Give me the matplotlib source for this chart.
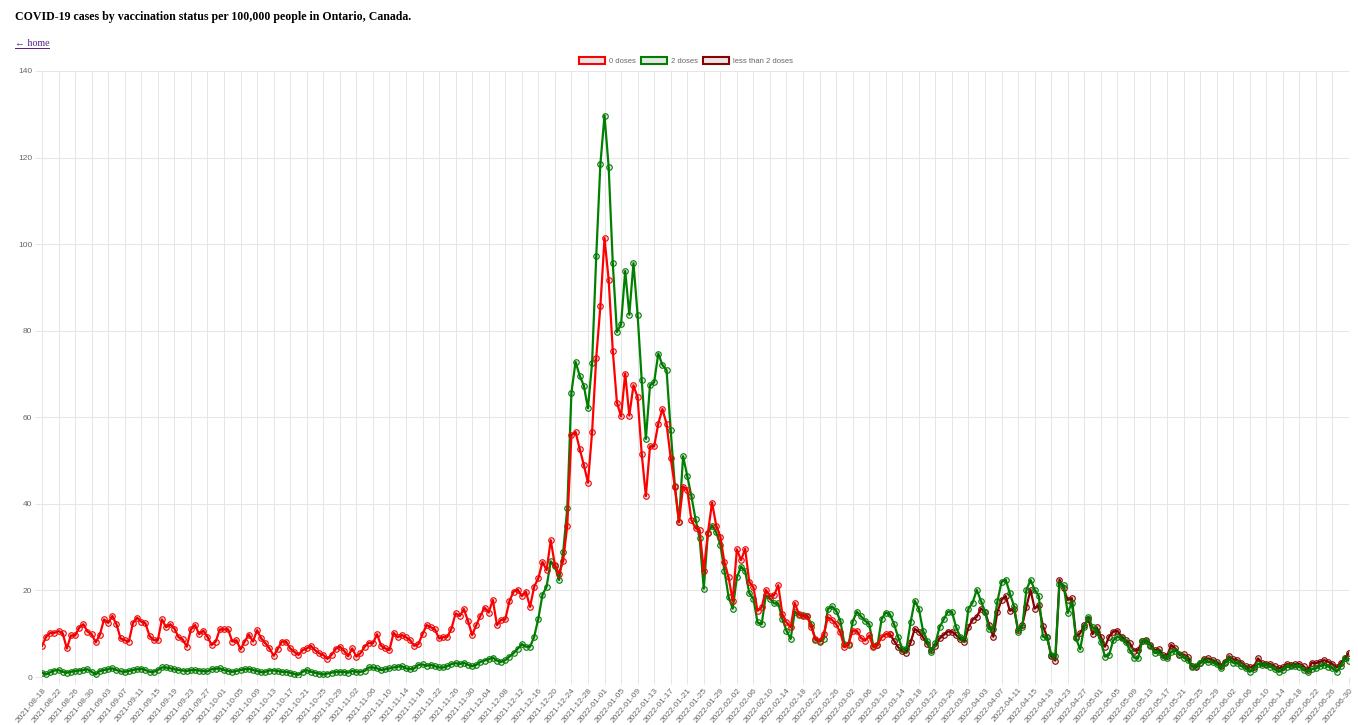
import numpy as np
import pandas as pd
import matplotlib
matplotlib.use("Agg")
import matplotlib.pyplot as plt
from matplotlib.patches import Patch
from matplotlib.lines import Line2D

# daily dates shown on the category axis
dates = pd.date_range("2021-08-18", "2022-06-30", freq="D").strftime("%Y-%m-%d").tolist()

# 0 doses, 2021-08-18 .. 2022-03-11
zero_doses = [
    7.2, 9.3, 10.2, 10.2, 10.6, 10.1, 6.6, 9.6, 9.6, 11.4,
    12.2, 10.5, 9.9, 8.0, 9.8, 13.3, 12.5, 14.1, 12.2, 8.9,
    8.5, 8.2, 12.5, 13.7, 12.8, 12.4, 9.5, 8.5, 8.5, 13.3,
    11.5, 12.2, 11.2, 9.2, 8.7, 7.0, 11.0, 12.0, 9.9, 10.7,
    9.3, 7.4, 8.2, 11.0, 11.0, 11.0, 8.2, 8.5, 6.4, 8.2,
    9.8, 8.2, 10.8, 8.9, 7.8, 6.6, 4.9, 6.5, 8.2, 8.2,
    6.6, 5.8, 5.1,
    6.2, 6.6, 7.2, 6.2, 5.5, 5.1, 4.2, 5.1, 6.5, 7.0,
    6.1, 4.8, 6.6, 4.7, 5.5, 7.0, 7.9, 7.8, 9.9, 7.2,
    6.6, 6.2, 10.2, 9.2, 9.7, 9.2, 8.5, 7.2, 7.6, 9.9,
    12.0, 11.5, 11.0, 8.9, 9.2, 9.3, 11.2, 14.7, 14.1, 15.7,
    12.9, 9.7, 12.0, 14.2, 16.0, 14.9, 17.8, 12.0, 13.2, 13.3,
    17.5, 19.7, 20.2, 18.7, 19.7, 16.2, 20.9, 22.8, 26.6, 24.7,
    31.6, 25.9, 23.9,
    26.8, 35.0, 55.9, 56.6, 52.7, 49.0, 44.9, 56.6, 73.8, 85.6,
    101.4, 91.8, 75.4, 63.4, 60.2, 70.1, 60.4, 67.4, 64.6, 51.5,
    41.8, 53.3, 53.3, 58.5, 61.9, 58.5, 50.6, 44.0, 35.8, 44.0,
    43.3, 36.3, 34.4,
    33.9, 24.5, 33.3, 40.3, 35.0, 32.4, 26.5, 23.0, 17.6, 29.5,
    27.0, 29.6, 22.0, 20.7, 15.3, 16.1, 20.1, 18.7, 18.9, 21.2,
    14.5, 12.6, 11.5, 17.1, 14.5, 14.0, 14.0, 11.5, 8.8, 8.4,
    9.9, 13.8, 13.2, 12.2, 10.3, 6.9, 7.7, 10.7, 10.7, 9.0,
    8.4, 9.6, 6.9, 7.4, 9.2, 9.9, 9.9,
]

# 2 doses, full range
two_doses = [
    1.0, 0.6, 1.1, 1.5, 1.6, 1.2, 1.0, 1.2, 1.4, 1.5,
    1.6, 1.8, 1.2, 0.6, 1.4, 1.6, 1.8, 2.0, 1.6, 1.3,
    1.2, 1.4, 1.6, 1.8, 1.9, 1.6, 1.2, 1.2, 1.6, 2.2,
    2.2, 2.0, 1.8, 1.6, 1.5, 1.4, 1.6, 1.6, 1.5, 1.4,
    1.3, 1.8, 1.9, 2.0, 1.6, 1.4, 1.2, 1.4, 1.6, 1.8,
    1.9, 1.6, 1.4, 1.1, 1.2, 1.5, 1.5, 1.4, 1.2, 1.2,
    1.0, 0.7, 0.5,
    1.2, 1.6, 1.2, 1.0, 0.8, 0.6, 0.8, 1.0, 1.2, 1.2,
    1.2, 1.0, 1.4, 1.2, 1.2, 1.4, 2.2, 2.2, 2.0, 1.6,
    1.8, 2.0, 2.2, 2.4, 2.5, 2.0, 1.8, 2.0, 2.8, 2.9,
    2.6, 2.8, 2.5, 2.2, 2.2, 2.5, 3.0, 3.2, 3.0, 3.3,
    2.8, 2.5, 2.8, 3.5, 3.8, 4.1, 4.5, 3.8, 3.5, 3.9,
    4.7, 5.5, 6.5, 7.6, 7.0, 7.0, 9.3, 13.5,
    19.0, 20.9, 26.7, 25.6, 22.4, 28.8, 39.0, 65.7, 72.8, 69.6,
    67.3, 62.1, 72.6, 97.2, 118.5, 129.7, 117.9, 95.6, 79.7, 81.5,
    93.8, 83.7, 95.6, 83.7, 68.5, 55.0, 67.4, 68.1, 74.7, 72.1,
    70.9, 57.0, 44.2, 35.8, 51.0, 46.5, 41.8, 36.5,
    32.0, 20.4, 33.3, 35.0, 33.4, 30.6, 24.5, 18.5, 15.8, 23.0,
    25.5, 24.5, 19.4, 18.1, 12.6, 12.2, 18.9, 18.1, 17.0, 17.0,
    13.4, 10.7, 8.8, 15.1, 14.4, 14.3, 14.2, 12.2, 8.6, 8.2,
    8.8, 15.7, 16.3, 15.3, 13.0, 7.7, 7.3, 12.8, 15.1, 14.0,
    13.0, 12.2, 7.1, 7.3, 13.4, 14.9, 14.5, 12.2, 9.2, 6.5,
    6.5, 12.6, 17.6, 15.8, 10.7, 8.4,
    5.8, 7.8, 11.5, 13.3, 15.1, 15.1, 11.5, 9.3, 8.7, 15.8,
    17.2, 20.1, 17.6, 15.1, 11.0, 11.2, 17.5, 22.0, 22.5, 19.3,
    16.4, 10.5, 11.5, 20.1, 22.4, 20.2, 18.7, 9.3, 9.2, 5.1,
    4.8, 21.5, 21.2, 14.8, 17.2, 8.9, 6.4, 11.6, 13.9, 11.5,
    10.5, 8.2, 4.7, 5.1, 8.5, 9.3, 8.9, 8.2, 6.2, 4.5,
    4.3,
    8.3, 8.4, 7.2, 5.6, 5.8, 4.7, 4.3, 5.8, 6.1, 5.3,
    4.5, 3.9, 2.4, 2.5, 3.2, 3.9, 3.4, 3.5, 3.0, 2.0,
    3.2, 4.1, 3.3, 3.2, 2.5, 2.0, 1.2, 1.8, 3.0, 2.8,
    2.8, 2.4, 1.8, 1.2, 1.6, 2.4, 2.5, 2.5, 2.4, 1.6,
    1.2, 1.8, 2.0, 2.5, 2.8, 2.4, 2.0, 1.2, 2.5, 4.3,
    3.8,
]

# less than 2 doses, 2022-03-11 .. 2022-06-30
less_than_two_start = "2022-03-11"
less_than_two = [
    9.9, 8.4, 6.9, 5.9, 5.6, 8.0, 11.1, 10.5, 9.2, 7.7,
    6.2, 7.2, 8.9, 9.7, 10.5, 10.5, 9.7, 8.7, 8.2, 11.5,
    13.2, 13.9, 15.8, 15.1, 12.0, 9.3, 15.1, 17.8, 18.7, 15.3,
    15.8, 10.8, 12.0, 16.2, 20.1, 15.8, 16.6, 11.8, 9.3, 4.8,
    3.8, 22.5, 20.5, 17.8, 18.2, 9.3, 10.1, 12.0, 13.3, 9.9,
    11.5, 9.3, 7.0, 9.3, 10.5, 10.7, 9.3, 8.5, 7.8, 6.1,
    6.2,
    8.3, 8.5, 7.4, 6.2, 6.4, 5.1, 4.8, 7.4, 6.6, 5.1,
    5.2, 4.7, 2.5, 2.2, 3.2, 4.1, 4.3, 3.9, 3.5, 2.5,
    3.5, 4.8, 4.1, 3.9, 3.3, 2.5, 2.2, 2.4, 4.3, 3.2,
    3.0, 3.0, 2.5, 2.0, 2.2, 3.0, 2.8, 3.0, 3.0, 2.5,
    1.6, 3.3, 3.2, 3.5, 3.9, 3.5, 3.0, 2.2, 3.2, 4.3,
    5.6,
]

series = [
    ("0 doses", zero_doses, 0, "red", 3),
    ("2 doses", two_doses, 0, "green", 2),
    ("less than 2 doses", less_than_two, dates.index(less_than_two_start), "darkred", 1),
]

W, H = 1358, 725
fig = plt.figure(figsize=(W / 100, H / 100), dpi=100)
ax = fig.add_axes([42 / W, 48 / H, 1307 / W, 606 / H])

grid_c = "#e6e6e6"
for label, vals, start, color, z in series:
    x = np.arange(start, start + len(vals))
    ax.plot(x, vals, color=color, lw=1.6, zorder=z,
            marker="o", ms=4.0, mfc=(0, 0, 0, 0.1), mec=color, mew=0.8)

ax.set_xlim(0, len(dates) - 1)
ax.set_ylim(0, 140)
ax.set_yticks(range(0, 141, 20))
tick_idx = list(range(0, len(dates), 4))
ax.set_xticks(tick_idx)
ax.set_xticklabels([dates[i] for i in tick_idx], rotation=50, ha="right",
                   rotation_mode="anchor", fontsize=6, color="#666666",
                   family="Liberation Sans")
for t in ax.get_yticklabels():
    t.set_fontsize(6)
    t.set_color("#666666")
    t.set_family("Liberation Sans")
for s in ax.spines.values():
    s.set_visible(False)
ax.tick_params(length=5, width=0.75, color=grid_c, pad=2,
               grid_color=grid_c, grid_linewidth=0.75)
ax.grid(True)
ax.set_axisbelow(True)

handles = [Patch(facecolor="#e6e6e6", edgecolor=c, lw=1.5, label=l)
           for l, _, _, c, _ in series]
fig.legend(handles=handles, loc="center", bbox_to_anchor=(686 / W, 1 - 61 / H),
           ncol=3, frameon=False, handlelength=3.4, handleheight=1.0,
           handletextpad=0.5, columnspacing=0.65,
           prop={"family": "Liberation Sans", "size": 5.5}, labelcolor="#666666")

fig.text(15 / W, 1 - 17 / H,
         "COVID-19 cases by vaccination status per 100,000 people in Ontario, Canada.",
         family=["Liberation Serif", "DejaVu Serif"], weight="bold", fontsize=8.6,
         va="center", ha="left")
fig.text(15 / W, 1 - 43.5 / H, "\u2190 home", family=["Liberation Serif", "DejaVu Serif"],
         fontsize=7.2, color="#551A8B", va="center", ha="left")
fig.add_artist(Line2D([15 / W, 49 / W], [1 - 47.5 / H, 1 - 47.5 / H],
                      color="#551A8B", lw=0.7))

fig.savefig("out.png", dpi=100)
